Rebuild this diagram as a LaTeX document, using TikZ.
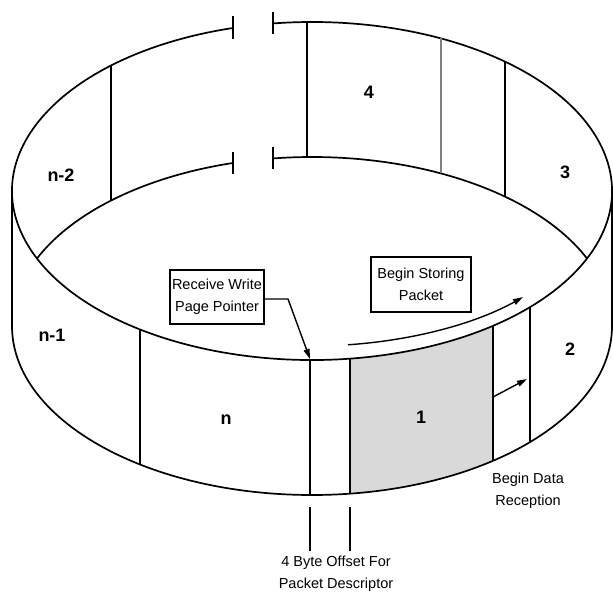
\documentclass[tikz,border=0pt]{standalone}
\usepackage{fontspec}
\setmainfont{Liberation Sans}
\usetikzlibrary{arrows.meta,calc}

\begin{document}
\begin{tikzpicture}[x=1pt,y=1pt]

    \tikzset{
      rim/.style={line width=1.7pt, line join=round},
      seg/.style={line width=1.7pt},
      num/.style={font=\fontsize{18}{20}\selectfont\bfseries},
      note/.style={font=\fontsize{14.5}{22}\selectfont, align=center},
      box/.style={note, draw, line width=1.4pt, inner sep=0pt},
      tip/.style={-{Triangle[length=10pt,width=6pt]}, line width=1.4pt},
      gap/.style={line width=1.7pt},
    }
    \useasboundingbox (0,0) rectangle (613,-592);
    \coordinate (T) at (312,-191);
    \coordinate (B) at (312,-326);
    % page 1 shaded
    \fill[black!15] ($(T)+(277.28:300pt and 169pt)$) arc[start angle=277.28, end angle=307.11, x radius=300pt, y radius=169pt]
      -- ($(B)+(307.11:300pt and 169pt)$) arc[start angle=307.11, end angle=277.28, x radius=300pt, y radius=169pt] -- cycle;
    % rims
    \draw[rim] ($(T)+(105.27:300pt and 169pt)$) arc[start angle=105.27, end angle=457.47, x radius=300pt, y radius=169pt];
    \draw[rim] ($(B)+(156.46:300pt and 169pt)$) arc[start angle=156.46, end angle=105.27, x radius=300pt, y radius=169pt];
    \draw[rim] ($(B)+(97.47:300pt and 169pt)$) arc[start angle=97.47, end angle=23.54, x radius=300pt, y radius=169pt];
    \draw[rim] ($(B)+(180:300pt and 169pt)$) arc[start angle=180, end angle=360, x radius=300pt, y radius=169pt];
    \draw[rim] (12,-191) -- (12,-326);
    \draw[rim] (612,-191) -- (612,-326);
    % break marks
    \draw[gap] (233,-16) -- (233,-39);
    \draw[gap] (273,-12) -- (273,-34);
    \draw[gap] (233,-152) -- (233,-174);
    \draw[gap] (273,-147) -- (273,-169);
    % page borders
    \foreach \a in {132.07,90.95,49.96,235.02,269.62,307.11,316.61}
      \draw[seg] ($(T)+(\a:300pt and 169pt)$) -- ($(B)+(\a:300pt and 169pt)$);
    \draw[seg, line width=2.4pt] ($(T)+(277.28:300pt and 169pt)$) -- ($(B)+(277.28:300pt and 169pt)$);
    \draw[seg, black!50, line width=1.4pt] ($(T)+(64.53:300pt and 169pt)$) -- ($(B)+(64.53:300pt and 169pt)$);

    \node[num] (pnm2) at (61,-175) {n-2};
    \node[num] (p4) at (369,-92) {4};
    \node[num] (p3) at (565,-172) {3};
    \node[num] (pnm1) at (52,-335) {n-1};
    \node[num] (pn) at (226,-420) {n};
    \node[num] (p1) at (421,-417) {1};
    \node[num] (p2) at (570,-349) {2};

    \node[box, minimum width=94pt, minimum height=54pt] (rwp) at (217,-297) {Receive Write\\Page Pointer};
    \node[box, minimum width=100pt, minimum height=55pt] (bsp) at (421,-284.5) {Begin Storing\\Packet};
    \node[note] (bdr) at (528,-491) {Begin Data\\Reception};
    \node[note] (ofs) at (336,-574) {4 Byte Offset For\\Packet Descriptor};

    \coordinate (rwpbend) at (288,-299);
    \coordinate (rwpend) at (310,-359);
    \draw[tip] ([yshift=-2pt]rwp.east) -- (rwpbend) -- (rwpend);

    \coordinate (bspstart) at ($(312,-177)+(276.89:300pt and 169pt)$);
    \draw[tip] (bspstart) arc[start angle=276.89, end angle=314.69, x radius=300pt, y radius=169pt];

    \coordinate (bdrstart) at (493,-397);
    \coordinate (bdrend) at (527,-379);
    \draw[tip] (bdrstart) -- (bdrend);

    \coordinate (ofsa) at (310,-507);
    \coordinate (ofsb) at (350,-507);
    \draw[seg, line width=1.4pt] (ofsa) -- ++(0,-44);
    \draw[seg, line width=1.4pt] (ofsb) -- ++(0,-44);

\end{tikzpicture}
\end{document}
